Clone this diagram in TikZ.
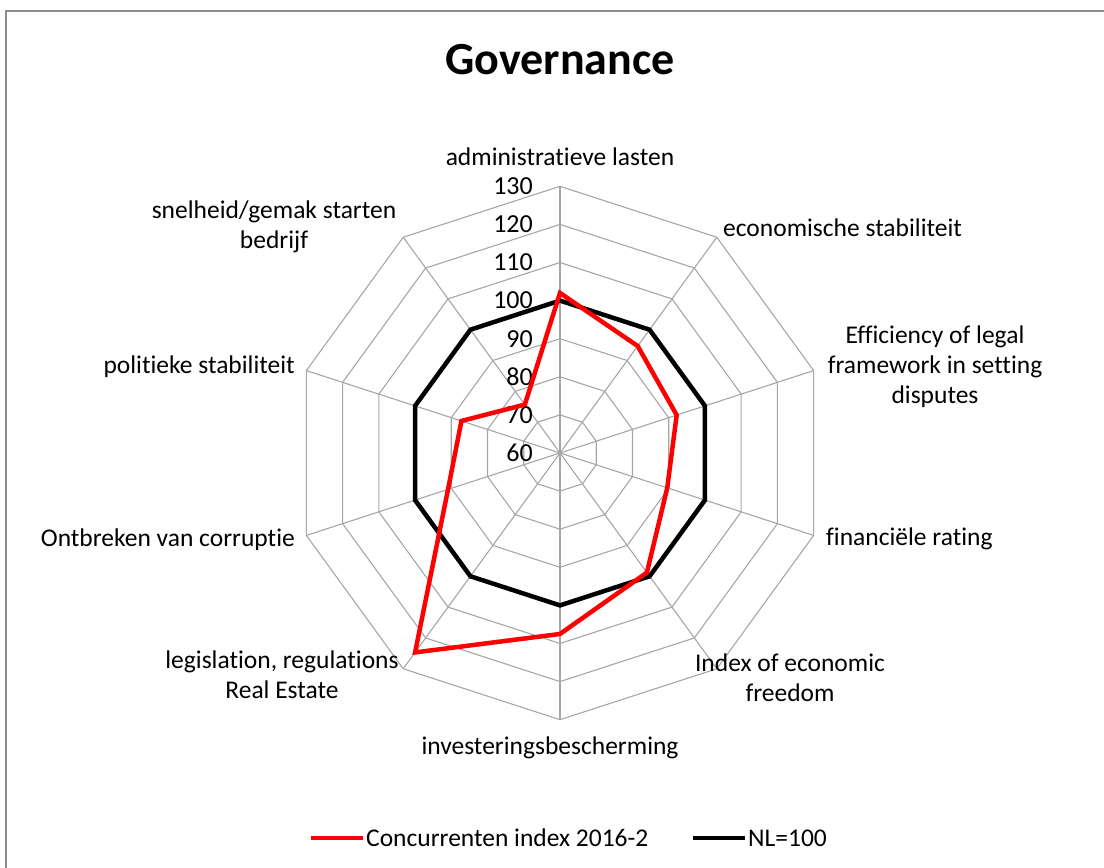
\documentclass[tikz,border=0pt]{standalone}
\usepackage{fontspec}
\setmainfont{Carlito}[Ligatures=NoCommon]
\begin{document}
\begin{tikzpicture}[x=1pt,y=1pt,
  lbl/.style={font=\fontsize{25.5}{30}\selectfont, inner sep=0pt, align=center},
  tick/.style={font=\fontsize{26}{30}\selectfont, inner sep=0pt, anchor=east},
  gridline/.style={draw=black!35, line width=1.1pt},
  nlline/.style={draw=black, line width=4.5pt, line join=miter},
  redline/.style={draw=red, line width=4.5pt, line join=miter},
  frameline/.style={draw=black!45, line width=2.5pt}]
\useasboundingbox (0,0) rectangle (1104,868);
\draw[frameline] (6,-20) -- (6,857) -- (1130,857);
\node[font=\bfseries\fontsize{46}{52}\selectfont, inner sep=0pt] (title) at (560,808) {Governance};
\begin{scope}[shift={(560,415)}]
  \def\u{3.81}
  % rings
  \foreach \v in {70,80,...,130}{
    \pgfmathsetmacro\r{(\v-60)*\u}
    \draw[gridline] (90:\r) \foreach \k in {1,...,9}{ -- ({90-36*\k}:\r)} -- cycle;
  }
  % spokes
  \foreach \k in {0,...,9}{
    \draw[gridline] (0,0) -- ({90-36*\k}:{70*\u});
  }
  % tick labels
  \foreach \v in {60,70,...,130}{
    \pgfmathsetmacro\r{(\v-60)*\u}
    \node[tick] (t\v) at (-27,\r) {\v};
  }
  % NL = 100
  \draw[nlline] (90:{40*\u}) \foreach \k in {1,...,9}{ -- ({90-36*\k}:{40*\u})} -- cycle;
  % Concurrenten index
  \draw[redline]
    (90:{(102-60)*\u}) -- (54:{(94.7-60)*\u}) -- (18:{(92.2-60)*\u}) -- (-18:{(89.6-60)*\u})
    -- (-54:{(98.8-60)*\u}) -- (-90:{(107.5-60)*\u}) -- (-126:{(124.7-60)*\u})
    -- (-162:{(90.9-60)*\u}) -- (162:{(87.2-60)*\u}) -- (126:{(75.7-60)*\u}) -- cycle;
\end{scope}
% axis labels
\node[lbl] (l1) at (560,711) {administratieve lasten};
\node[lbl, anchor=west] (l2) at (723,640) {economische stabiliteit};
\node[lbl] (l3) at (935,501) {Efficiency of legal\\framework in setting\\disputes};
\node[lbl, anchor=west] (l4) at (826,329) {financiële rating};
\node[lbl] (l5) at (790,190) {Index of economic\\freedom};
\node[lbl] (l6) at (550,120) {investeringsbescherming};
\node[lbl] (l7) at (282,193) {legislation, regulations\\Real Estate};
\node[lbl, anchor=east] (l8) at (295,328) {Ontbreken van corruptie};
\node[lbl, anchor=east] (l9) at (295,501) {politieke stabiliteit};
\node[lbl] (l10) at (274,641) {snelheid/gemak starten\\bedrijf};
% legend
\coordinate (ra) at (311,30);
\coordinate (rb) at (363,30);
\coordinate (ka) at (693,30);
\coordinate (kb) at (745,30);
\draw[redline] (ra) -- (rb);
\node[lbl, anchor=west] (leg1) at (366,30) {Concurrenten index 2016-2};
\draw[nlline] (ka) -- (kb);
\node[lbl, anchor=west] (leg2) at (748,30) {NL=100};
\end{tikzpicture}
\end{document}
